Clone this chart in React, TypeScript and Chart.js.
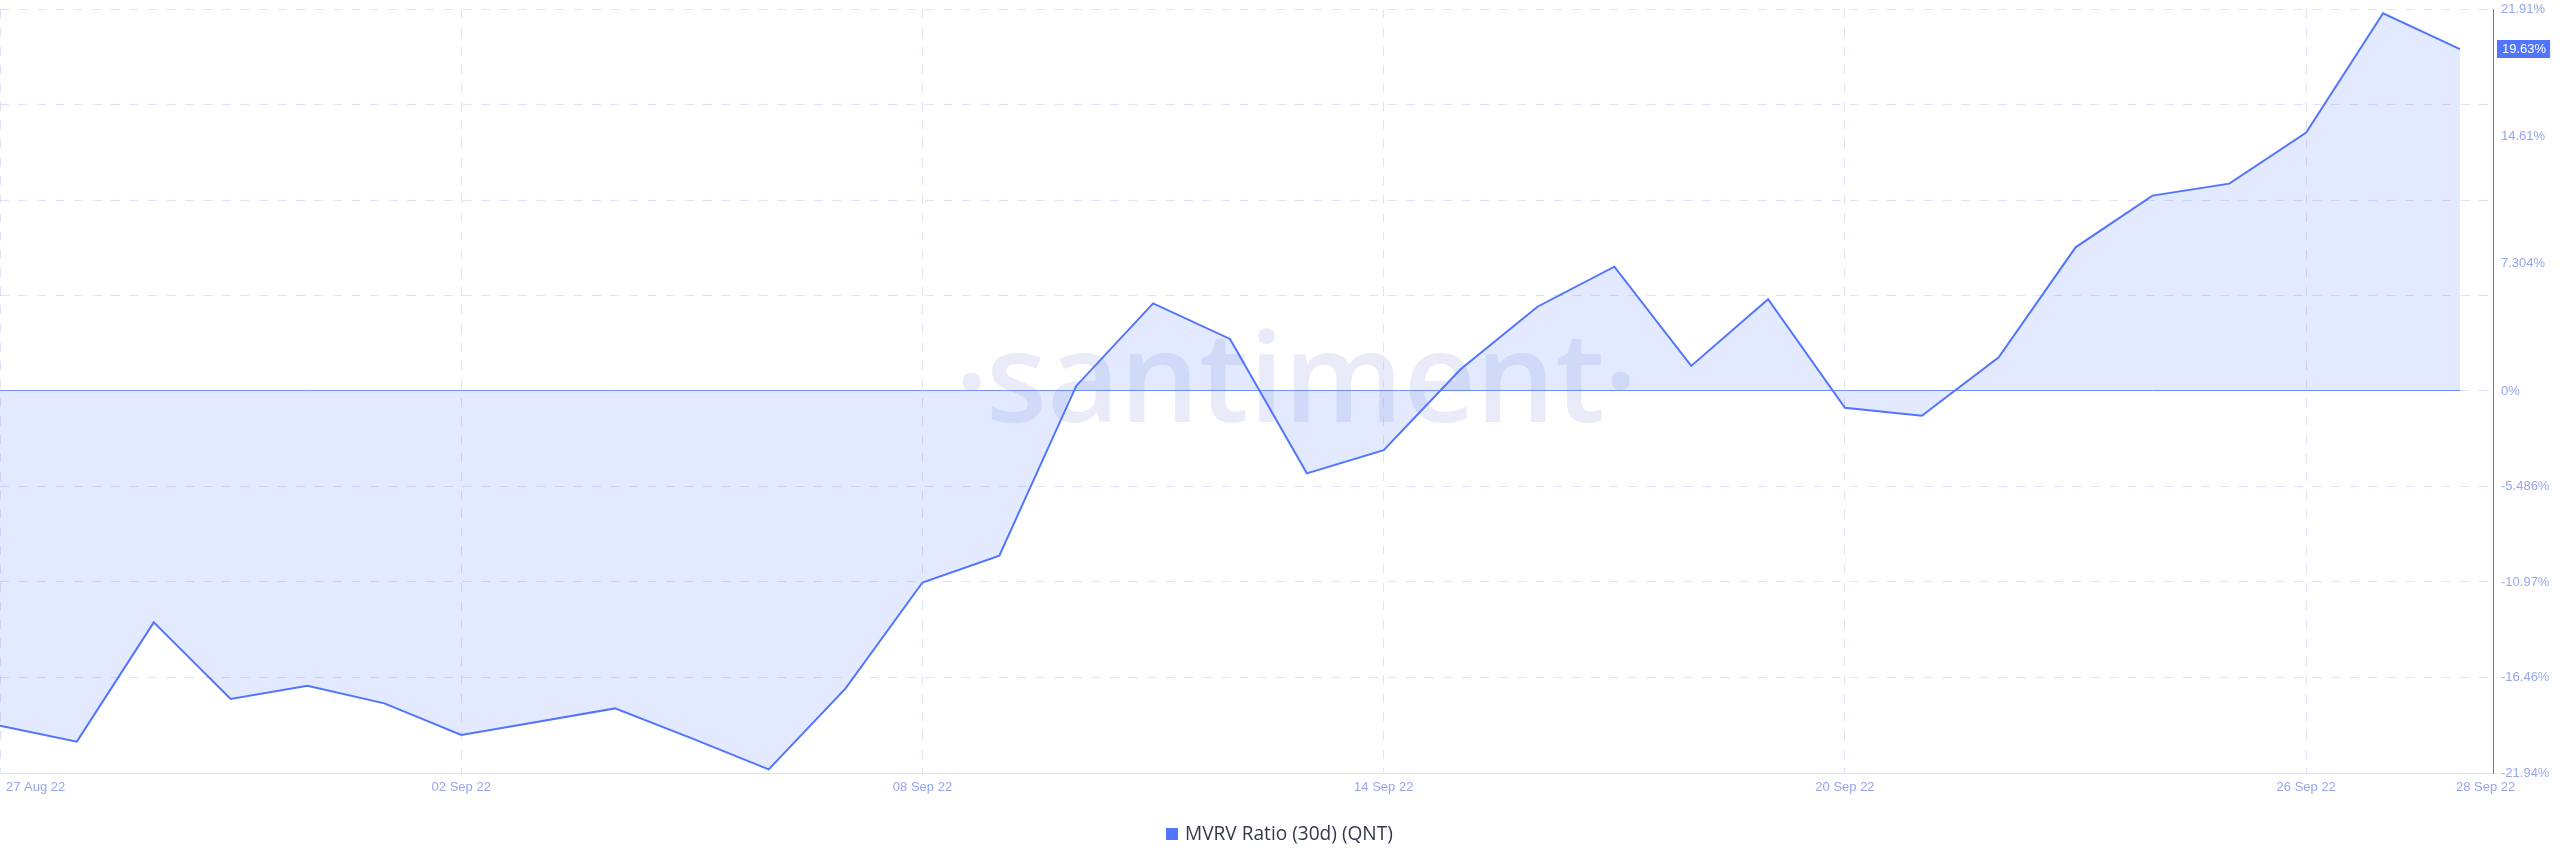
import React, { useEffect, useRef } from 'react';
import { Chart, registerables } from 'chart.js';

Chart.register(...registerables);

// ---- data ----
const dates = [
  '27 Aug 22', '28 Aug 22', '29 Aug 22', '30 Aug 22', '31 Aug 22', '01 Sep 22', '02 Sep 22',
  '03 Sep 22', '04 Sep 22', '05 Sep 22', '06 Sep 22', '07 Sep 22', '08 Sep 22', '09 Sep 22',
  '10 Sep 22', '11 Sep 22', '12 Sep 22', '13 Sep 22', '14 Sep 22', '15 Sep 22', '16 Sep 22',
  '17 Sep 22', '18 Sep 22', '19 Sep 22', '20 Sep 22', '21 Sep 22', '22 Sep 22', '23 Sep 22',
  '24 Sep 22', '25 Sep 22', '26 Sep 22', '27 Sep 22', '28 Sep 22',
];
const mvrv = [
  -19.22, -20.14, -13.29, -17.69, -16.93, -17.94, -19.76,
  -19.0, -18.23, -19.95, -21.73, -17.08, -11.0, -9.46,
  0.29, 5.03, 2.99, -4.73, -3.4, 1.25, 4.84,
  7.14, 1.44, 5.27, -0.96, -1.42, 1.93, 8.25,
  11.22, 11.91, 14.84, 21.69, 19.63,
];
const seriesName = 'MVRV Ratio (30d) (QNT)';

const xTickIndex = [0, 6, 12, 18, 24, 30, 32];
const xTickLabels = ['27 Aug 22', '02 Sep 22', '08 Sep 22', '14 Sep 22', '20 Sep 22', '26 Sep 22', '28 Sep 22'];
const xGridIndex = [0, 6, 12, 18, 24, 30];

const yTickValues = [21.91, 14.61, 7.304, 0, -5.486, -10.97, -16.46, -21.94];
const yTickLabels = ['21.91%', '14.61%', '7.304%', '0%', '-5.486%', '-10.97%', '-16.46%', '-21.94%'];
const yGridValues = [21.91, 16.43, 10.955, 5.478, -5.486, -10.97, -16.46];
const yMin = -21.94;
const yMax = 21.91;
const xMax = 32.43;

// ---- styles ----
const LINE = '#5275ff';
const FILL = 'rgba(82,117,255,0.16)';
const GRID = 'rgba(180,190,240,0.45)';
const AXIS_TEXT = '#97a5ef';
const AXIS_FONT = '"Liberation Sans", Arial, sans-serif';

const santimentPlugin = {
  id: 'santimentDecor',
  beforeDatasetsDraw(chart: any) {
    const { ctx, chartArea: ca, scales } = chart;
    const x = scales.x;
    const y = scales.y;
    ctx.save();

    // watermark
    ctx.fillStyle = 'rgba(135,152,215,0.18)';
    let fs = 160;
    ctx.font = `600 ${fs}px "Open Sans", sans-serif`;
    let m = ctx.measureText('santiment');
    const ink = m.actualBoundingBoxLeft + m.actualBoundingBoxRight;
    fs = (fs * 610) / ink;
    ctx.font = `600 ${fs}px "Open Sans", sans-serif`;
    m = ctx.measureText('santiment');
    ctx.textAlign = 'left';
    ctx.textBaseline = 'alphabetic';
    ctx.fillText('santiment', 992 + m.actualBoundingBoxLeft, 421.7);
    const d = ctx.measureText('.');
    const dotCx = (d.actualBoundingBoxRight - d.actualBoundingBoxLeft) / 2;
    const dotCy = (d.actualBoundingBoxAscent - d.actualBoundingBoxDescent) / 2;
    ctx.fillText('.', 972 - dotCx, 381 + dotCy);
    ctx.fillText('.', 1621 - dotCx, 380 + dotCy);

    // dashed grid
    ctx.strokeStyle = GRID;
    ctx.lineWidth = 1;
    ctx.setLineDash([9, 9.5]);
    const hline = (py: number, x0: number, x1: number) => {
      ctx.beginPath();
      ctx.moveTo(x0, py);
      ctx.lineTo(x1, py);
      ctx.stroke();
    };
    yGridValues.forEach((v) => hline(Math.floor(y.getPixelForValue(v)) + 0.5, ca.left, ca.right));
    const lastX = x.getPixelForValue(mvrv.length - 1);
    const zeroY = Math.floor(y.getPixelForValue(0)) + 0.5;
    hline(zeroY, lastX, ca.right);
    xGridIndex.forEach((i) => {
      const px = Math.floor(x.getPixelForValue(i)) + 0.5;
      ctx.beginPath();
      ctx.moveTo(px, ca.top);
      ctx.lineTo(px, ca.bottom);
      ctx.stroke();
    });
    ctx.setLineDash([]);

    // bottom axis line
    ctx.strokeStyle = 'rgb(222,226,247)';
    hline(Math.floor(ca.bottom) + 0.5, ca.left, ca.right);

    // zero line under the series
    ctx.strokeStyle = 'rgba(82,117,255,0.8)';
    hline(zeroY, ca.left, lastX);
    ctx.restore();
  },
  afterDraw(chart: any) {
    const { ctx, chartArea: ca, scales } = chart;
    const x = scales.x;
    const y = scales.y;
    ctx.save();

    // x labels
    ctx.font = `13px ${AXIS_FONT}`;
    ctx.fillStyle = AXIS_TEXT;
    ctx.textBaseline = 'middle';
    const ly = ca.bottom + 14;
    xTickIndex.forEach((idx, k) => {
      const px = x.getPixelForValue(idx);
      if (k === 0) {
        ctx.textAlign = 'left';
        ctx.fillText(xTickLabels[k], px + 6, ly);
      } else if (k === xTickIndex.length - 1) {
        ctx.textAlign = 'left';
        ctx.fillText(xTickLabels[k], px - 4, ly);
      } else {
        ctx.textAlign = 'center';
        ctx.fillText(xTickLabels[k], px, ly);
      }
    });

    // current value badge
    const last = mvrv[mvrv.length - 1];
    const by = y.getPixelForValue(last);
    const label = `${last.toFixed(2)}%`;
    ctx.font = `13px ${AXIS_FONT}`;
    const tw = ctx.measureText(label).width;
    ctx.fillStyle = LINE;
    ctx.fillRect(ca.right + 4, Math.round(by - 9), tw + 9, 18);
    ctx.fillStyle = '#ffffff';
    ctx.textAlign = 'left';
    ctx.fillText(label, ca.right + 9, by + 0.5);

    // legend
    ctx.fillStyle = LINE;
    ctx.fillRect(1166, 828, 12, 12);
    ctx.fillStyle = '#353a4a';
    let lf = 17;
    ctx.font = `${lf}px "Open Sans", Lato, sans-serif`;
    const lw = ctx.measureText(seriesName).width;
    lf = Math.min(20, Math.max(15, (lf * 208) / lw));
    ctx.font = `${lf}px "Open Sans", Lato, sans-serif`;
    ctx.textAlign = 'left';
    ctx.textBaseline = 'middle';
    ctx.fillText(seriesName, 1185, 834.5);
    ctx.restore();
  },
};

export default function App() {
  const canvasRef = useRef<HTMLCanvasElement | null>(null);

  useEffect(() => {
    document.body.style.margin = '0';
    const canvas = canvasRef.current;
    if (!canvas) return;
    const chart = new Chart(canvas, {
      type: 'line',
      data: {
        labels: dates,
        datasets: [
          {
            label: seriesName,
            data: mvrv.map((v, i) => ({ x: i, y: v })),
            borderColor: LINE,
            backgroundColor: FILL,
            borderWidth: 2,
            pointRadius: 0,
            pointHoverRadius: 0,
            tension: 0,
            fill: 'origin',
          },
        ],
      },
      options: {
        animation: false,
        responsive: false,
        devicePixelRatio: 1,
        layout: { padding: { top: 9.5, left: 0, right: 0, bottom: 94 } },
        plugins: {
          legend: { display: false },
          tooltip: { enabled: false },
        },
        scales: {
          x: {
            type: 'linear',
            display: false,
            min: 0,
            max: xMax,
          },
          y: {
            type: 'linear',
            position: 'right',
            min: yMin,
            max: yMax,
            afterBuildTicks: (scale: any) => {
              scale.ticks = yTickValues.map((v) => ({ value: v }));
            },
            afterFit: (scale: any) => {
              scale.width = 67;
              scale.paddingTop = 0;
              scale.paddingBottom = 0;
            },
            grid: { display: false, drawTicks: false },
            border: { display: true, color: LINE, width: 1 },
            ticks: {
              autoSkip: false,
              padding: 8,
              color: AXIS_TEXT,
              font: { size: 13, family: AXIS_FONT },
              callback: (value: any) => {
                const k = yTickValues.indexOf(Number(value));
                return k >= 0 ? yTickLabels[k] : '';
              },
            },
          },
        },
      },
      plugins: [santimentPlugin],
    });
    return () => chart.destroy();
  }, []);

  return (
    <div style={{ position: 'absolute', left: 0, top: 0, width: 2560, height: 867, background: '#fff' }}>
      <canvas ref={canvasRef} width={2560} height={867} style={{ display: 'block' }} />
    </div>
  );
}
